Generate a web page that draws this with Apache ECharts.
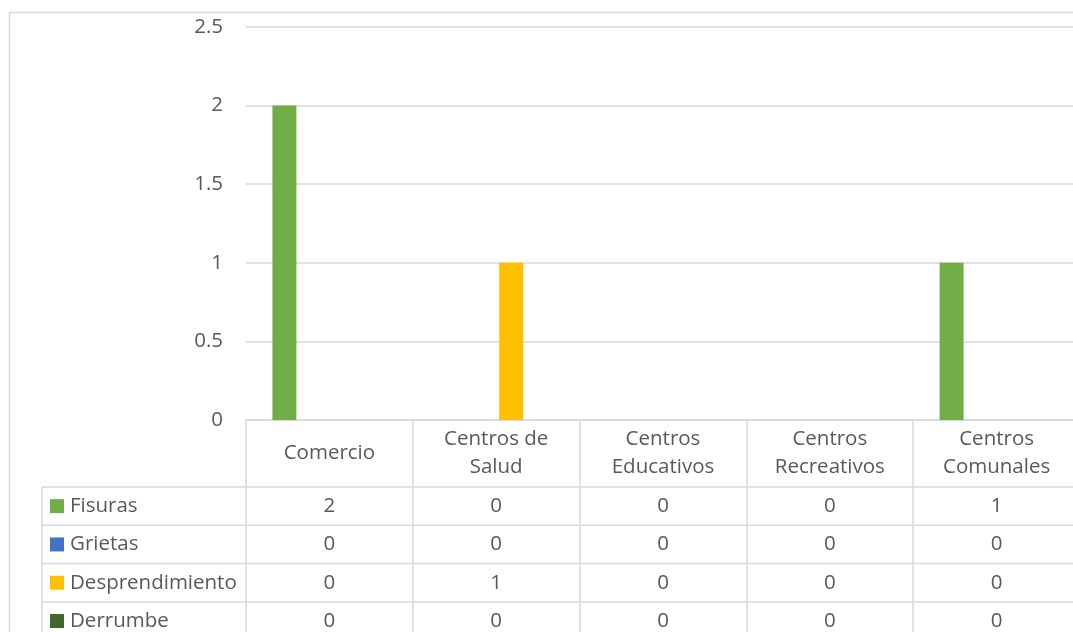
<!DOCTYPE html>
<html>
<head>
<meta charset="utf-8">
<script src="https://cdn.jsdelivr.net/npm/echarts@6/dist/echarts.min.js"></script>
<style>
html,body{margin:0;padding:0;background:#fff;}
#chart{width:1073px;height:632px;}
</style>
</head>
<body>
<div id="chart"></div>
<script>
const categories = ['Comercio', 'Centros de\nSalud', 'Centros\nEducativos', 'Centros\nRecreativos', 'Centros\nComunales'];
const seriesNames = ['Fisuras', 'Grietas', 'Desprendimiento', 'Derrumbe'];
const fisuras = [2, 0, 0, 0, 1];
const grietas = [0, 0, 0, 0, 0];
const desprendimiento = [0, 1, 0, 0, 0];
const derrumbe = [0, 0, 0, 0, 0];
const yMin = 0, yMax = 2.5, yInterval = 0.5;

const seriesValues = [fisuras, grietas, desprendimiento, derrumbe];
const colors = ['#70AD47', '#4472C4', '#FFC000', '#43682B'];
const textColor = '#595959';
const lineColor = '#D9D9D9';
const FONT = '"Open Sans", "Liberation Sans", sans-serif';
const FS = 20.5;

const chart = echarts.init(document.getElementById('chart'), null, {renderer: 'canvas'});
chart.setOption({
  animation: false,
  backgroundColor: '#fff',
  grid: {left: 246, top: 27, width: 834, height: 393, containLabel: false, outerBoundsMode: 'none'},
  xAxis: {
    type: 'category',
    data: categories,
    axisLine: {show: true, lineStyle: {color: lineColor, width: 1.5}},
    axisTick: {show: true, length: 230, lineStyle: {color: lineColor, width: 1.5}},
    axisLabel: {
      interval: 0, margin: 33, verticalAlign: 'middle', lineHeight: 28,
      color: textColor, fontFamily: FONT, fontSize: FS
    },
    splitLine: {show: false}
  },
  yAxis: {
    type: 'value', min: yMin, max: yMax, interval: yInterval,
    axisLine: {show: false}, axisTick: {show: false},
    axisLabel: {margin: 23, color: textColor, fontFamily: FONT, fontSize: FS},
    splitLine: {show: true, lineStyle: {color: lineColor, width: 1.5}}
  },
  series: seriesNames.map((n, i) => ({
    name: n, type: 'bar', data: seriesValues[i],
    barWidth: 24, barGap: '25%',
    itemStyle: {color: colors[i]}
  }))
});

// Data table drawn from the axes' pixel positions
const gfx = [];
const y0 = chart.convertToPixel({yAxisIndex: 0}, 0);
const headerH = 67;
const rowH = 38.3;
const tableLeft = 42;
const rightEdge = 1100;
const tableTop = y0 + headerH;

// outer chart border
gfx.push({type: 'rect', z: -10, shape: {x: 9.5, y: 12.5, width: 1100, height: 700},
  style: {fill: 'none', stroke: lineColor, lineWidth: 1.5}});

for (let r = 0; r <= seriesNames.length; r++) {
  const y = tableTop + r * rowH;
  gfx.push({type: 'line', shape: {x1: tableLeft, y1: y, x2: rightEdge, y2: y},
    style: {stroke: lineColor, lineWidth: 1.5}});
}
gfx.push({type: 'line', shape: {x1: tableLeft, y1: tableTop, x2: tableLeft, y2: 700},
  style: {stroke: lineColor, lineWidth: 1.5}});

seriesNames.forEach((n, r) => {
  const cy = tableTop + (r + 0.5) * rowH;
  gfx.push({type: 'rect', shape: {x: 50, y: cy - 7, width: 14, height: 14},
    style: {fill: colors[r]}});
  gfx.push({type: 'text', style: {text: n, x: 70, y: cy, fill: textColor,
    font: FS + 'px ' + FONT, textAlign: 'left', verticalAlign: 'middle'}});
  seriesValues[r].forEach((v, c) => {
    const cx = chart.convertToPixel({xAxisIndex: 0}, c);
    gfx.push({type: 'text', style: {text: String(v), x: cx, y: cy, fill: textColor,
      font: FS + 'px ' + FONT, textAlign: 'center', verticalAlign: 'middle'}});
  });
});

chart.setOption({graphic: gfx});
</script>
</body>
</html>
